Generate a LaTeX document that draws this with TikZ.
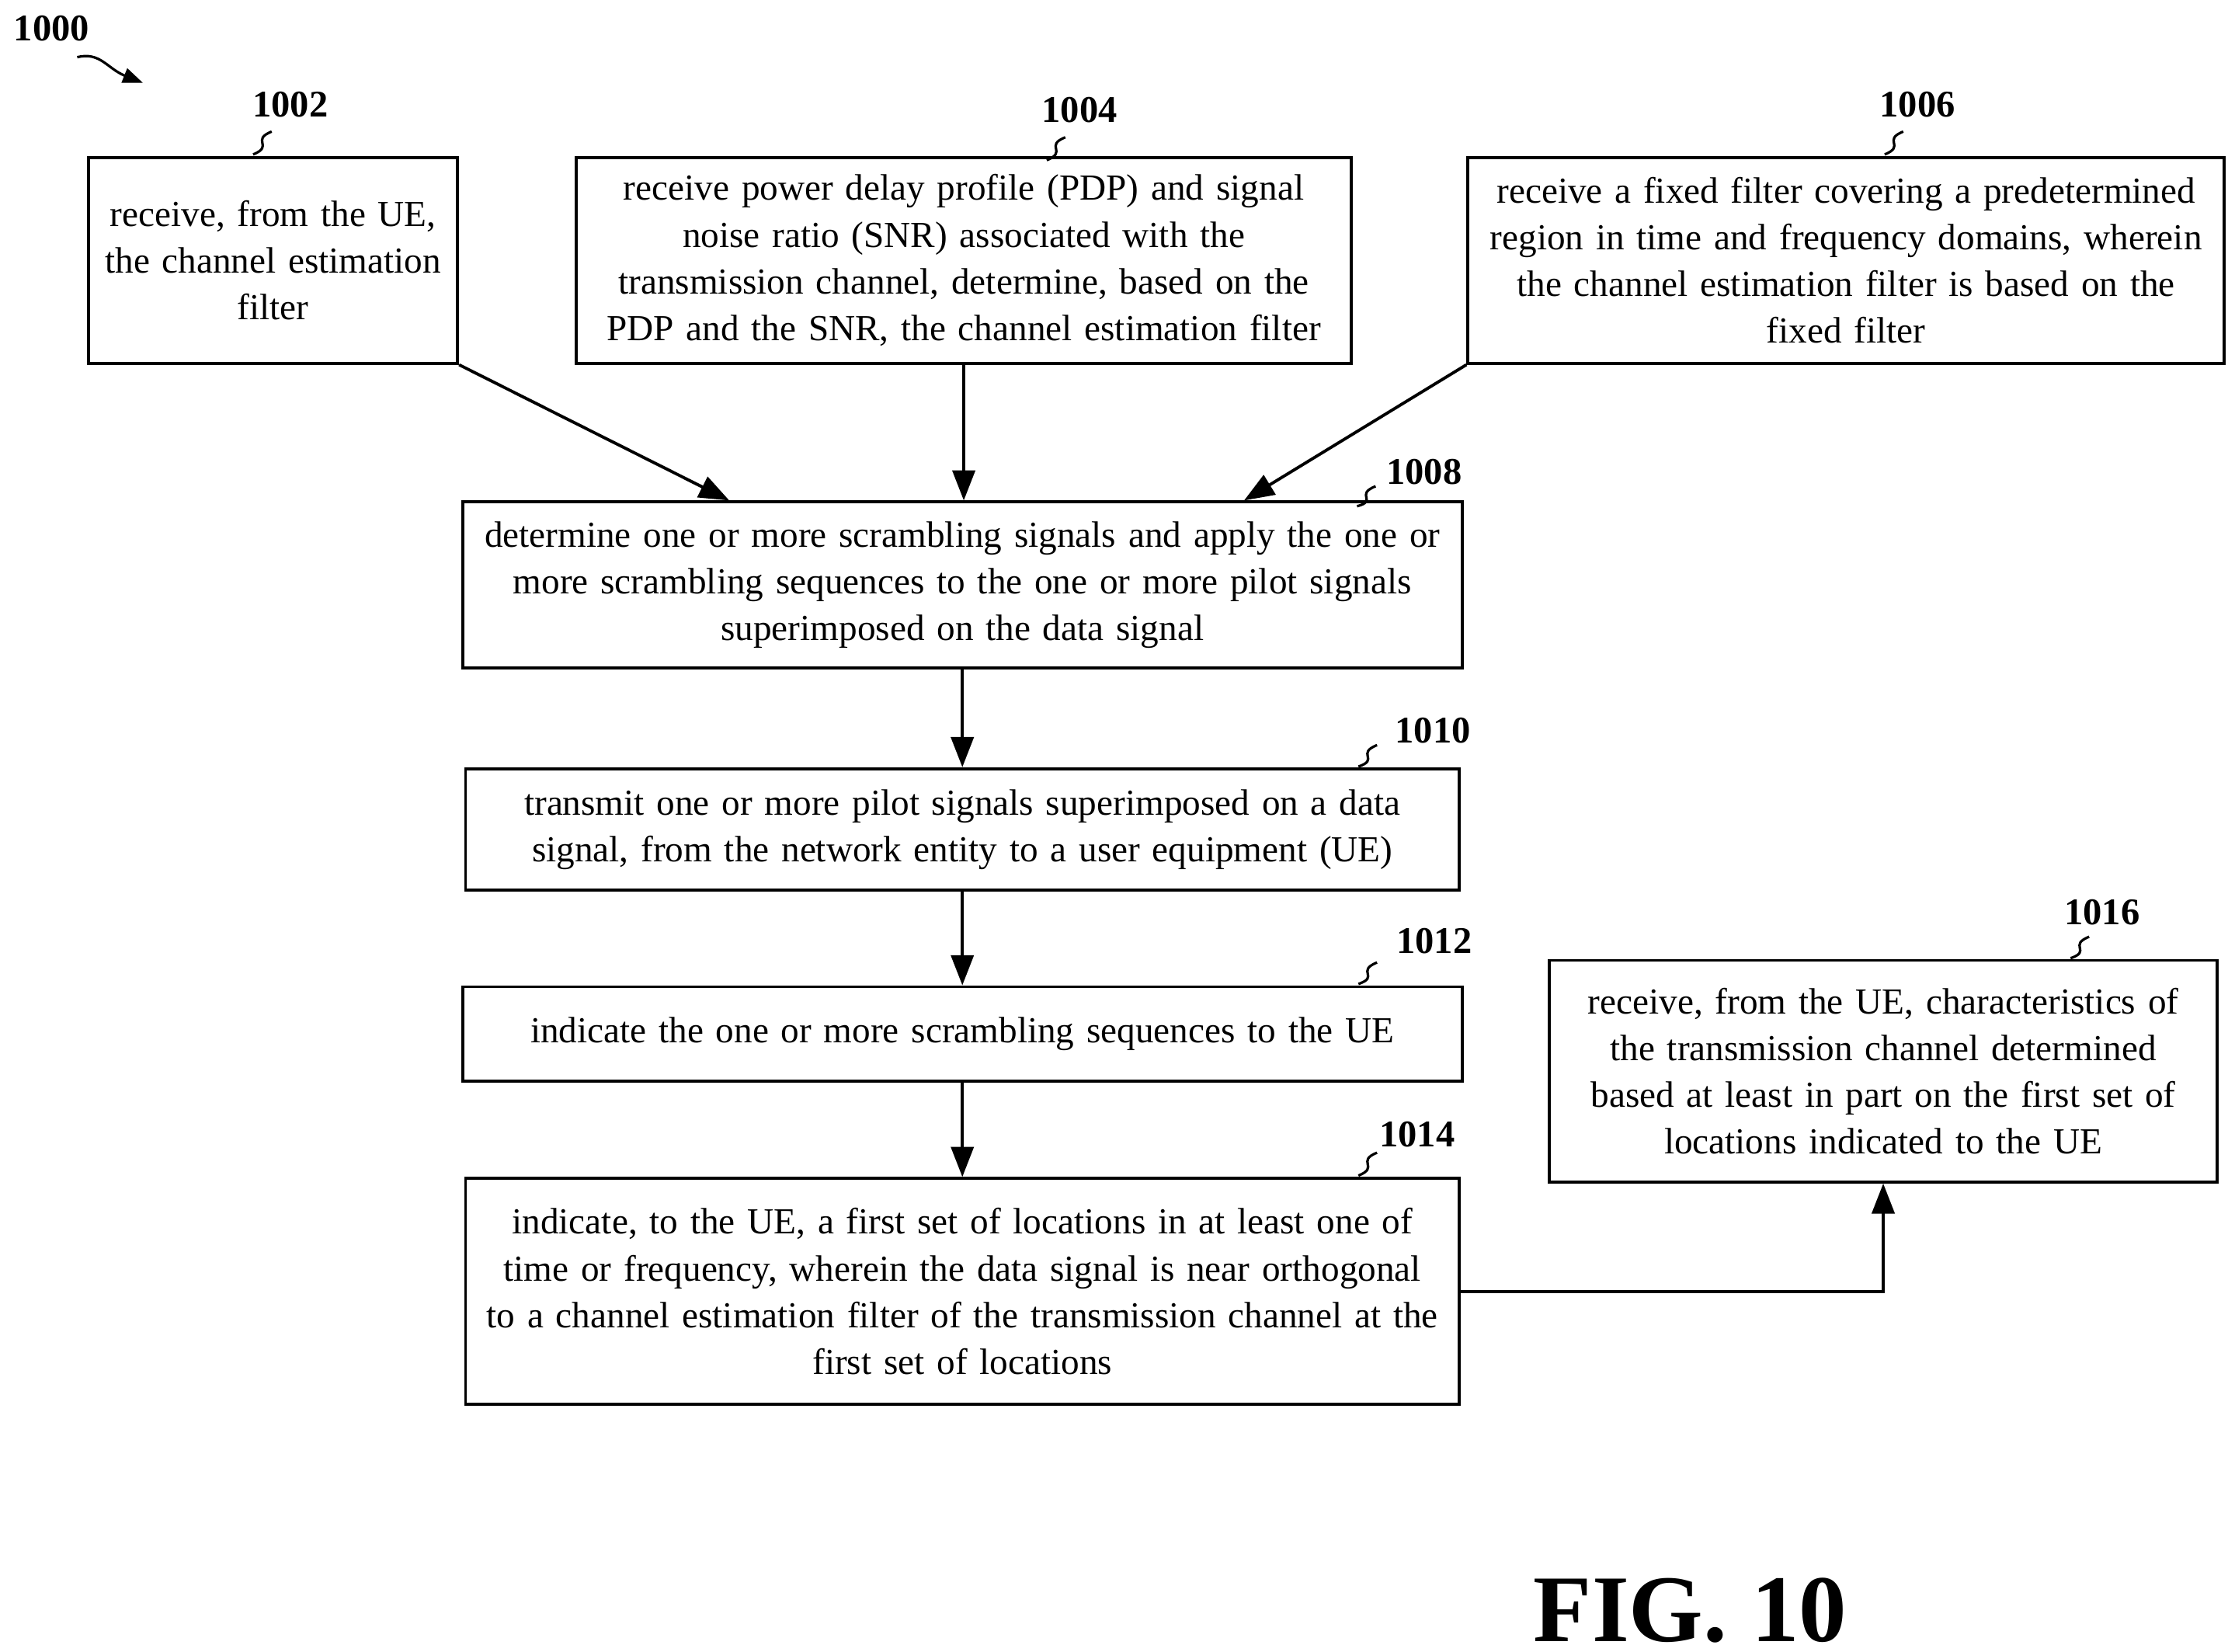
\documentclass[tikz,border=0pt]{standalone}
\usepackage{fontspec}
\setmainfont{Liberation Serif}
\usetikzlibrary{arrows.meta,positioning}
\tikzset{
  stepbox/.style={draw,line width=1.2pt,align=center,inner sep=0pt,font=\fontsize{14.6}{18.6}\selectfont},
  num/.style={font=\bfseries\fontsize{15}{18}\selectfont},
  flow/.style={-{Triangle[length=12pt,width=9pt]},line width=1.2pt},
  tick/.style={line width=1pt}
}
\begin{document}
\begin{tikzpicture}[x=0.02cm,y=-0.02cm]
\useasboundingbox (0,0) rectangle (1563,1155);
\node[stepbox,minimum width=5.16cm,minimum height=2.88cm,text width=5.1cm] (b1002) at (191,182) {receive, from the UE,\\the channel estimation\\filter};
\node[stepbox,minimum width=10.84cm,minimum height=2.88cm,text width=10.8cm] (b1004) at (674,182) {receive power delay profile (PDP) and signal\\noise ratio (SNR) associated with the\\transmission channel, determine, based on the\\PDP and the SNR, the channel estimation filter};
\node[stepbox,minimum width=10.58cm,minimum height=2.88cm,text width=10.55cm] (b1006) at (1291,182) {receive a fixed filter covering a predetermined\\region in time and frequency domains, wherein\\the channel estimation filter is based on the\\fixed filter};
\node[stepbox,minimum width=13.98cm,minimum height=2.32cm,text width=13.95cm] (b1008) at (673,409) {determine one or more scrambling signals and apply the one or\\more scrambling sequences to the one or more pilot signals\\superimposed on the data signal};
\node[stepbox,minimum width=13.9cm,minimum height=1.7cm,text width=13.85cm] (b1010) at (673,580) {transmit one or more pilot signals superimposed on a data\\signal, from the network entity to a user equipment (UE)};
\node[stepbox,minimum width=13.98cm,minimum height=1.32cm,text width=13.95cm] (b1012) at (673,723) {indicate the one or more scrambling sequences to the UE};
\node[stepbox,minimum width=13.9cm,minimum height=3.16cm,text width=13.85cm] (b1014) at (673,903) {indicate, to the UE, a first set of locations in at least one of\\time or frequency, wherein the data signal is near orthogonal\\to a channel estimation filter of the transmission channel at the\\first set of locations};
\node[stepbox,minimum width=9.34cm,minimum height=3.1cm,text width=9.3cm] (b1016) at (1317,749) {receive, from the UE, characteristics of\\the transmission channel determined\\based at least in part on the first set of\\locations indicated to the UE};

% step numbers
\node[num] (n1000) at (36,20) {1000};
\node[num] (n1002) at (203,73) {1002};
\node[num] (n1004) at (755,77) {1004};
\node[num] (n1006) at (1341,73) {1006};
\node[num] (n1008) at (996,330) {1008};
\node[num] (n1010) at (1002,511) {1010};
\node[num] (n1012) at (1003,658) {1012};
\node[num] (n1014) at (991,793) {1014};
\node[num] (n1016) at (1470,638) {1016};
\draw[tick] (190,92) .. controls (175,98) and (192,102) .. (177,108);
\draw[tick] (745,96) .. controls (730,102) and (747,106) .. (732,112);
\draw[tick] (1331,92) .. controls (1316,98) and (1333,102) .. (1318,108);
\draw[tick] (962,340) .. controls (947,346) and (964,350) .. (949,354);
\draw[tick] (963,521) .. controls (948,527) and (965,531) .. (950,536);
\draw[tick] (963,673) .. controls (948,679) and (965,683) .. (950,688);
\draw[tick] (963,806) .. controls (948,812) and (965,816) .. (950,822);
\draw[tick] (1461,655) .. controls (1446,661) and (1463,665) .. (1448,670);
\draw[tick,-{Triangle[length=8pt,width=6pt]}] (54,40) .. controls (70,36) and (75,48) .. (100,58);

% connectors
\draw[flow] (b1002.south east) -- (b1008.north west -| 510,0);
\draw[flow] (b1004.south) -- (b1004.south |- b1008.north);
\draw[flow] (b1006.south west) -- (b1008.north west -| 870,0);
\draw[flow] (b1008) -- (b1010);
\draw[flow] (b1010) -- (b1012);
\draw[flow] (b1012) -- (b1014);
\draw[flow] (b1014.east) -| (b1016.south);

\node[font=\bfseries\fontsize{38}{40}\selectfont] (fig) at (1182,1126) {FIG. 10};
\end{tikzpicture}
\end{document}
